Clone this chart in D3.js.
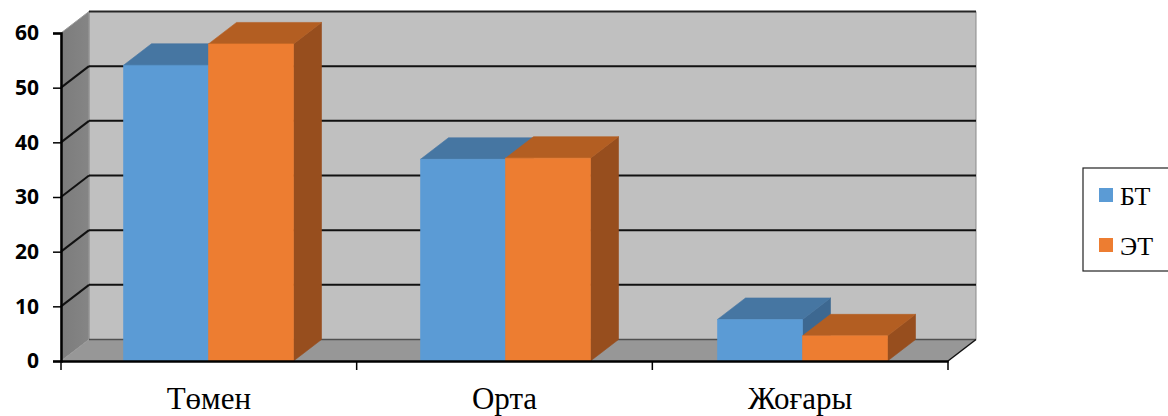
<!DOCTYPE html>
<html>
<head>
<meta charset="utf-8">
<script src="https://cdn.jsdelivr.net/npm/d3@7"></script>
<style>
  html, body { margin: 0; padding: 0; background: #fff; }
  svg { display: block; }
</style>
</head>
<body>
<svg id="chart" width="1168" height="416"></svg>
<script>
// Data
const categories = ["Төмен", "Орта", "Жоғары"];
const seriesNames = ["БТ", "ЭТ"];
const btValues = [54.1, 36.9, 7.6];
const etValues = [58.0, 37.1, 4.6];
const yTicks = [0, 10, 20, 30, 40, 50, 60];

// Styling
const palette = {
  БТ: { front: "#5B9BD5", top: "#4676A2", side: "#3D6891" },
  ЭТ: { front: "#ED7D31", top: "#B35E22", side: "#974E1E" }
};
const DX = 28, DY = -21.5; // oblique depth offset

const svg = d3.select("#chart");

const y = d3.scaleLinear().domain([0, 60]).range([361, 33]);
const xAxisBand = d3.scaleBand().domain(categories).range([61, 948]);
const xBarBand = d3.scaleBand().domain(categories).range([60, 951]);
const inner = d3.scaleBand().domain(seriesNames).range([0, 170]);

const poly = pts => "M" + pts.map(p => p.join(",")).join("L") + "Z";

const x0 = xAxisBand.range()[0], x1 = xAxisBand.range()[1];
const yTop = y(60), yBot = y(0);

// Back wall
svg.append("path")
  .attr("d", poly([[x0 + DX, yTop + DY], [x1 + DX, yTop + DY], [x1 + DX, yBot + DY], [x0 + DX, yBot + DY]]))
  .attr("fill", "#C0C0C0")
  .attr("stroke", "#8a8a8a").attr("stroke-width", 1);

// Left side wall
const wallGrad = svg.append("defs").append("linearGradient")
  .attr("id", "wallShade").attr("x1", 0).attr("y1", 0).attr("x2", 1).attr("y2", 0);
wallGrad.append("stop").attr("offset", "0%").attr("stop-color", "#7c7c7c");
wallGrad.append("stop").attr("offset", "100%").attr("stop-color", "#858585");
svg.append("path")
  .attr("d", poly([[x0, yTop], [x0 + DX, yTop + DY], [x0 + DX, yBot + DY], [x0, yBot]]))
  .attr("fill", "url(#wallShade)")
  .attr("stroke", "#9a9a9a").attr("stroke-width", 1);

// Floor
svg.append("path")
  .attr("d", poly([[x0, yBot], [x1, yBot], [x1 + DX, yBot + DY], [x0 + DX, yBot + DY]]))
  .attr("fill", "#979797");

// Back wall bottom edge
svg.append("line")
  .attr("x1", x0 + DX).attr("x2", x1 + DX)
  .attr("y1", yBot + DY).attr("y2", yBot + DY)
  .attr("stroke", "#505050").attr("stroke-width", 1.5);

// Gridlines on back and side walls
const gridVals = yTicks.filter(v => v > 0);
const grid = svg.append("g");
gridVals.forEach(v => {
  grid.append("line")
    .attr("x1", x0 + DX).attr("x2", x1 + DX)
    .attr("y1", y(v) + DY).attr("y2", y(v) + DY)
    .attr("stroke", v === 60 ? "#262626" : "#111").attr("stroke-width", 2);
  if (v < 60) {
    grid.append("line")
      .attr("x1", x0).attr("y1", y(v))
      .attr("x2", x0 + DX).attr("y2", y(v) + DY)
      .attr("stroke", "#111").attr("stroke-width", 2);
  }
});

// Bars (drawn left to right so right-hand faces overlap correctly)
const bars = [];
categories.forEach((c, i) => {
  [btValues[i], etValues[i]].forEach((v, j) => {
    bars.push({ cat: c, series: seriesNames[j], value: v });
  });
});

const barW = inner.bandwidth();
const barG = svg.append("g");
bars.forEach(d => {
  const left = xBarBand(d.cat) + (xBarBand.bandwidth() - 170) / 2 + inner(d.series);
  const right = left + barW;
  const top = y(d.value), base = y(0);
  const col = palette[d.series];
  const g = barG.append("g");
  // right side face
  g.append("path")
    .attr("d", poly([[right, top], [right + DX, top + DY], [right + DX, base + DY], [right, base]]))
    .attr("fill", col.side).attr("stroke", col.side).attr("stroke-width", 0.6);
  // top face
  g.append("path")
    .attr("d", poly([[left, top], [right, top], [right + DX, top + DY], [left + DX, top + DY]]))
    .attr("fill", col.top).attr("stroke", col.top).attr("stroke-width", 0.6);
  // front face
  g.append("path")
    .attr("d", poly([[left, top], [right, top], [right, base], [left, base]]))
    .attr("fill", col.front).attr("stroke", col.front).attr("stroke-width", 0.6);
});

// Floor right edge
svg.append("line")
  .attr("x1", x1).attr("y1", yBot).attr("x2", x1 + DX).attr("y2", yBot + DY)
  .attr("stroke", "#111").attr("stroke-width", 1.5);

// Value axis
const yAxis = d3.axisLeft(y).tickValues(yTicks).tickSize(8).tickPadding(14);
const yg = svg.append("g").attr("transform", `translate(${x0},0)`).call(yAxis);
yg.select(".domain").attr("stroke", "#000").attr("stroke-width", 2.5);
yg.selectAll(".tick line").attr("stroke", "#000").attr("stroke-width", 1.5);
yg.selectAll(".tick text")
  .attr("font-family", "'Open Sans', Lato, sans-serif")
  .attr("font-weight", 700)
  .attr("font-size", 21)
  .attr("fill", "#000");

// Category axis
const xAxis = d3.axisBottom(xAxisBand).tickSize(0).tickSizeOuter(0).tickPadding(26);
const xg = svg.append("g").attr("transform", `translate(0,${yBot})`).call(xAxis);
xg.select(".domain").attr("stroke", "#000").attr("stroke-width", 2.5);
xg.selectAll(".tick text")
  .attr("font-family", "'Liberation Serif', 'Times New Roman', serif")
  .attr("font-size", 31)
  .attr("fill", "#000");
// category boundary ticks
const boundaries = categories.map(c => xAxisBand(c)).concat([x1]);
xg.selectAll(".bound").data(boundaries).enter().append("line")
  .attr("class", "bound")
  .attr("x1", d => d).attr("x2", d => d)
  .attr("y1", 0).attr("y2", 9)
  .attr("stroke", "#000").attr("stroke-width", 1.5);

// Legend
const legend = svg.append("g").attr("transform", "translate(1083,168)");
legend.append("rect")
  .attr("x", 0).attr("y", 0).attr("width", 100).attr("height", 103)
  .attr("fill", "#fff").attr("stroke", "#222").attr("stroke-width", 1.2);
seriesNames.forEach((s, i) => {
  const row = legend.append("g").attr("transform", `translate(16,${20 + i * 50})`);
  row.append("rect").attr("width", 14).attr("height", 14).attr("fill", palette[s].front);
  row.append("text")
    .attr("x", 21).attr("y", 17)
    .attr("font-family", "'Liberation Serif', 'Times New Roman', serif")
    .attr("font-size", 26)
    .attr("fill", "#000")
    .text(s);
});
</script>
</body>
</html>
